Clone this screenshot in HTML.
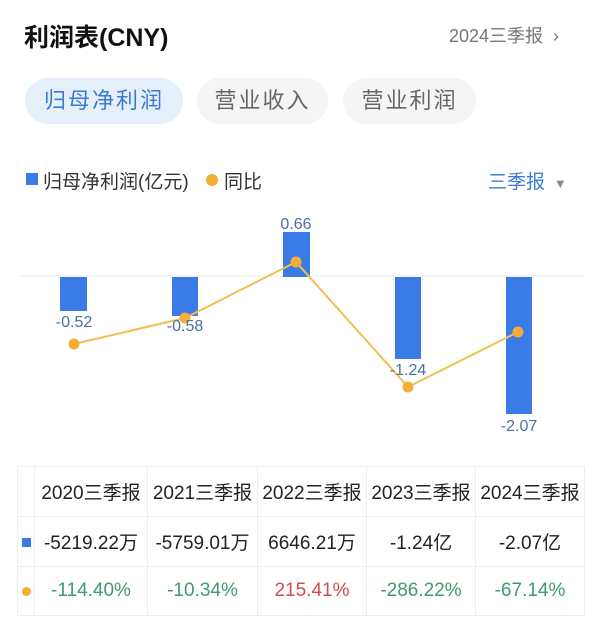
<!DOCTYPE html>
<html><head><meta charset="utf-8"><style>
body{margin:0;width:600px;height:624px;background:#fff;font-family:"Liberation Sans","Noto Sans CJK SC",sans-serif;position:relative;overflow:hidden}
.a{position:absolute;white-space:nowrap}
.pill{position:absolute;top:78px;height:46px;border-radius:23px;background:#f4f5f7;color:#666;font-size:22px;line-height:46px;text-align:center;letter-spacing:2px}
table{position:absolute;left:17px;top:466px;border-collapse:collapse}
td{border:1px solid #eceef0;text-align:center;font-size:19px;padding:0;color:#222}
</style></head><body>
<div class="a" style="left:24px;top:18px;font-size:25px;font-weight:bold;color:#111">利润表(CNY)</div>
<div class="a" style="left:449px;top:22px;font-size:18px;color:#777">2024三季报 &nbsp;›</div>
<div class="pill" style="left:25px;width:158px;background:#e6f0fb;color:#3a7bd5">归母净利润</div>
<div class="pill" style="left:197px;width:131px">营业收入</div>
<div class="pill" style="left:343px;width:133px">营业利润</div>
<div class="a" style="left:26px;top:173px;width:12px;height:12px;background:#3b7be8"></div>
<div class="a" style="left:43px;top:167px;font-size:19px;color:#333">归母净利润(亿元)</div>
<div class="a" style="left:206px;top:174px;width:12px;height:12px;border-radius:50%;background:#f5ae35"></div>
<div class="a" style="left:224px;top:167px;font-size:19px;color:#333">同比</div>
<div class="a" style="left:488px;top:167px;font-size:19px;color:#3a7bd5">三季报 <span style="color:#888;font-size:13px">&nbsp;▼</span></div>
<svg class="a" style="left:0;top:200px" width="600" height="260" font-family="Liberation Sans" font-size="16" fill="#4a6fa5" text-anchor="middle">
<line x1="20" y1="76" x2="583" y2="76" stroke="#e8e8e8"/>
<rect x="60" y="77" width="27" height="34" fill="#3b7be8"/>
<rect x="172" y="77" width="26" height="39" fill="#3b7be8"/>
<rect x="283" y="32" width="27" height="45" fill="#3b7be8"/>
<rect x="395" y="77" width="26" height="82" fill="#3b7be8"/>
<rect x="506" y="77" width="26" height="137" fill="#3b7be8"/>
<polyline points="74,144 185,118 296,62 408,187 518,132" fill="none" stroke="#f1c04e" stroke-width="2"/>
<g fill="#f5ae35"><circle cx="74" cy="144" r="5.5"/><circle cx="185" cy="118" r="5.5"/><circle cx="296" cy="62" r="5.5"/><circle cx="408" cy="187" r="5.5"/><circle cx="518" cy="132" r="5.5"/></g>
<text x="74" y="127">-0.52</text><text x="185" y="131">-0.58</text><text x="296" y="29">0.66</text><text x="408" y="175">-1.24</text><text x="519" y="231">-2.07</text>
</svg>
<table>
<tr style="height:50px"><td style="width:16px"></td><td style="width:112px">2020三季报</td><td style="width:109px">2021三季报</td><td style="width:108px">2022三季报</td><td style="width:108px">2023三季报</td><td style="width:108px">2024三季报</td></tr>
<tr style="height:50px"><td><span style="display:inline-block;width:9px;height:9px;background:#3b7be8"></span></td><td>-5219.22万</td><td>-5759.01万</td><td>6646.21万</td><td>-1.24亿</td><td>-2.07亿</td></tr>
<tr style="height:49px"><td><span style="display:inline-block;width:9px;height:9px;border-radius:50%;background:#f5ae35"></span></td><td style="color:#3f9b6e">-114.40%</td><td style="color:#3f9b6e">-10.34%</td><td style="color:#d24d4d">215.41%</td><td style="color:#3f9b6e">-286.22%</td><td style="color:#3f9b6e">-67.14%</td></tr>
</table>
</body></html>
